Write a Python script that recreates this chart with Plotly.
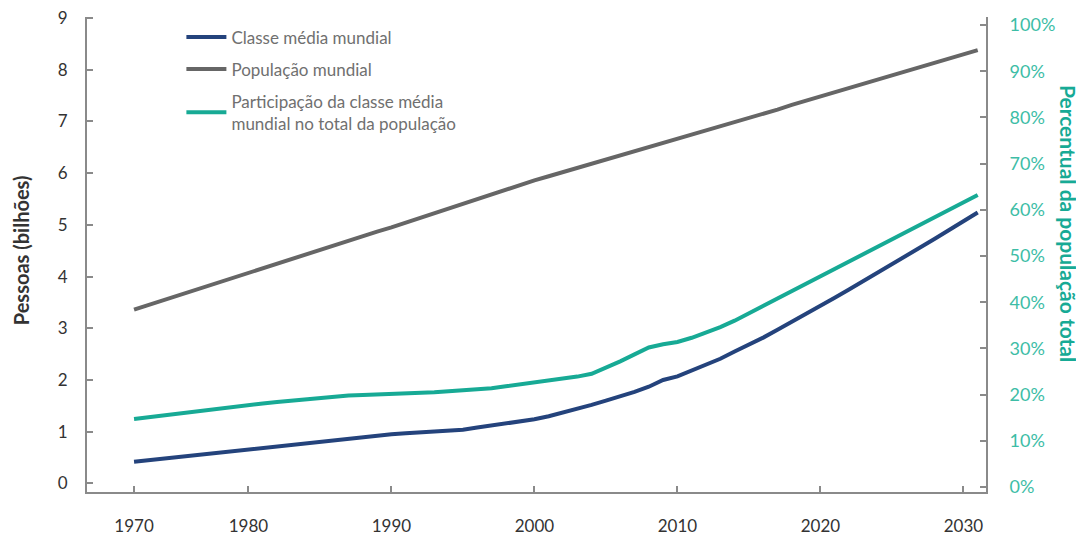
import plotly.graph_objects as go

# anos: 1970 e depois 1973-2031 (eixo por categorias)
years = [1970] + list(range(1973, 2032))

# bilhoes de pessoas
populacao = [3.36, 3.45, 3.54, 3.63, 3.71, 3.80, 3.89, 3.98, 4.07, 4.16,
             4.24, 4.33, 4.42, 4.51, 4.60, 4.69, 4.78, 4.87, 4.95, 5.04,
             5.13, 5.22, 5.31, 5.41, 5.51, 5.60, 5.69, 5.78, 5.86, 5.94,
             6.02, 6.10, 6.18, 6.26, 6.34, 6.42, 6.50, 6.58, 6.66, 6.74,
             6.82, 6.91, 6.99, 7.07, 7.15, 7.23, 7.32, 7.40, 7.48, 7.56,
             7.64, 7.73, 7.81, 7.89, 7.97, 8.05, 8.14, 8.22, 8.30, 8.38]

classe_media = [0.42, 0.45, 0.48, 0.51, 0.54, 0.57, 0.60, 0.63, 0.66, 0.69,
                0.72, 0.75, 0.78, 0.81, 0.84, 0.87, 0.90, 0.93, 0.95, 0.97,
                0.99, 1.01, 1.03, 1.04, 1.08, 1.12, 1.16, 1.20, 1.24, 1.30,
                1.37, 1.44, 1.52, 1.60, 1.68, 1.77, 1.87, 2.00, 2.07, 2.18,
                2.29, 2.41, 2.55, 2.68, 2.82, 2.97, 3.12, 3.27, 3.43, 3.59,
                3.75, 3.91, 4.07, 4.23, 4.39, 4.56, 4.73, 4.90, 5.07, 5.24]

# percentual da populacao total
participacao = [14.7, 15.1, 15.5, 15.9, 16.3, 16.7, 17.1, 17.5, 17.8, 18.1,
                18.4, 18.7, 19.0, 19.3, 19.6, 19.8, 19.9, 20.0, 20.0, 20.1,
                20.3, 20.5, 20.7, 20.9, 21.1, 21.4, 21.8, 22.2, 22.6, 23.0,
                23.4, 23.9, 24.5, 25.8, 27.2, 28.7, 30.2, 30.9, 31.4, 32.3,
                33.4, 34.6, 36.0, 37.6, 39.2, 40.8, 42.3, 43.9, 45.5, 47.0,
                48.6, 50.2, 51.8, 53.4, 55.1, 56.8, 58.4, 60.0, 61.6, 63.2]

tick_years = ["1970", "1980", "1990", "2000", "2010", "2020", "2030"]

x = [str(y) for y in years]
azul = "#24437c"
cinza = "#666666"
verde = "#17aa95"
fonte = "Lato"

fig = go.Figure()
fig.add_trace(go.Scatter(x=x, y=classe_media, mode="lines", name="Classe média mundial",
                         line=dict(color=azul, width=4), legendgroup="a"))
fig.add_trace(go.Scatter(x=x, y=populacao, mode="lines", name="População mundial",
                         line=dict(color=cinza, width=4), legendgroup="b"))
fig.add_trace(go.Scatter(x=x, y=[p / 100 for p in participacao], mode="lines",
                         name="Participação da classe média<br>mundial no total da população",
                         line=dict(color=verde, width=4), yaxis="y2", legendgroup="c"))

eixo = dict(showline=True, linecolor="#8a8a8a", linewidth=2, ticks="inside",
            tickcolor="#8a8a8a", ticklen=6, tickwidth=1.5, showgrid=False,
            zeroline=False, automargin=False, ticklabeloverflow="allow")

# a pagina tem 8px de margem no body, por isso a figura fica menor
fig.update_layout(
    width=1076, height=529,
    margin=dict(l=79, r=98, t=9, b=45),
    plot_bgcolor="white", paper_bgcolor="white",
    font=dict(family=fonte, size=16, color="#333333"),
    xaxis=dict(type="category", range=[-3.29, 59.58], tickvals=tick_years, ticktext=tick_years,
               ticklabelstandoff=18, tickfont=dict(size=17), **eixo),
    yaxis=dict(range=[-0.166, 9.02], tickvals=list(range(10)), ticklabelstandoff=14,
               tickfont=dict(size=17), **eixo),
    yaxis2=dict(overlaying="y", side="right", range=[-0.0108, 1.0173],
                tickvals=[i / 10 for i in range(11)], tickformat=".0%",
                tickfont=dict(color="#3dbda6", size=18), ticklabelstandoff=18, **eixo),
    legend=dict(x=0.105, y=0.995, xanchor="left", yanchor="top", bgcolor="rgba(0,0,0,0)",
                font=dict(size=17, color="#707070"), tracegroupgap=7, itemwidth=40),
    showlegend=True,
)

fig.add_annotation(text="<b>Pessoas (bilhões)</b>", xref="paper", yref="paper",
                   x=-0.074, y=0.51, textangle=-90, showarrow=False,
                   font=dict(size=20, color="#333333"), xanchor="center", yanchor="middle")
fig.add_annotation(text="<b>Percentual da população total</b>", xref="paper", yref="paper",
                   x=1.092, y=0.565, textangle=90, showarrow=False,
                   font=dict(size=21, color=verde), xanchor="center", yanchor="middle")

fig.write_html("out.html")
